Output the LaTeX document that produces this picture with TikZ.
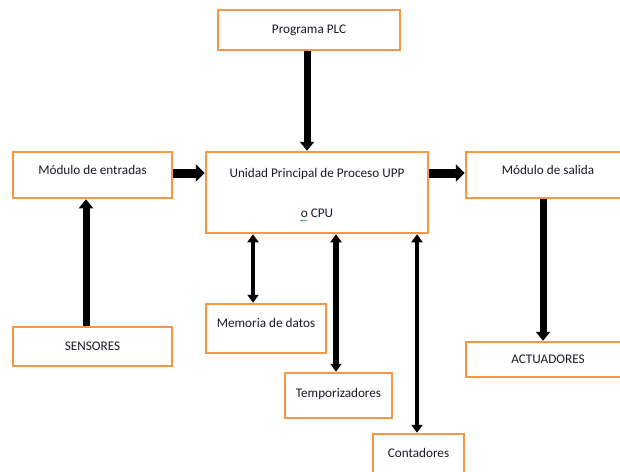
\documentclass[tikz,border=0pt]{standalone}
\usepackage{fontspec}
\setmainfont{Carlito}
\usetikzlibrary{arrows.meta}
\definecolor{boxorange}{HTML}{F79646}
\definecolor{spellgreen}{HTML}{3FA34D}
\definecolor{inktext}{HTML}{1A1A26}
\begin{document}
\begin{tikzpicture}[x=1pt,y=-1pt,
  box/.style={draw=boxorange,line width=2.5pt,fill=white,inner sep=0pt,
    font=\fontsize{13.2}{16}\selectfont,text=inktext},
  hbig/.style={line width=9pt,-{Triangle[width=17pt,length=9pt]}},
  vbig/.style={line width=7pt,-{Triangle[width=14pt,length=9pt]}},
  dbl/.style={line width=4.5pt,{Triangle[width=11pt,length=8pt]}-{Triangle[width=11pt,length=8pt]}}]
\useasboundingbox[fill=white] (0,0) rectangle (620,471);

% blocks
\node[box,minimum width=182pt,minimum height=40pt] (prog) at (309,30) {Programa PLC};
\node[box,minimum width=159pt,minimum height=46pt] (ent) at (92.5,175) {\raisebox{10pt}{Módulo de entradas}};
\node[box,minimum width=222pt,minimum height=81pt,align=center,
  font=\fontsize{13.2}{40}\selectfont] (upp) at (317,192.5) {Unidad Principal de Proceso UPP\\o CPU};
\node[box,minimum width=164pt,minimum height=46pt] (sal) at (548,175) {\raisebox{10pt}{Módulo de salida}};
\node[box,minimum width=159pt,minimum height=39pt] (sens) at (92.5,346.5) {SENSORES};
\node[box,minimum width=120pt,minimum height=49pt] (mem) at (266,328.5) {\raisebox{12pt}{Memoria de datos}};
\node[box,minimum width=107pt,minimum height=45pt] (temp) at (338.5,395.5) {\raisebox{5pt}{Temporizadores}};
\node[box,minimum width=91pt,minimum height=52pt] (cont) at (418.5,460) {\raisebox{15pt}{Contadores}};
\node[box,minimum width=164pt,minimum height=35pt] (act) at (548,359.5) {\raisebox{1pt}{ACTUADORES}};

% spell-check underline below the "o"
\draw[spellgreen,line width=0.6pt] ([shift={(-17,27.5)}]upp.center)
  -- ++(1.2,1.2) -- ++(1.2,-1.2) -- ++(1.2,1.2) -- ++(1.2,-1.2) -- ++(1.2,1.2) -- ++(1.2,-1.2);

% connectors
\draw[vbig] ([xshift=-2pt]prog.south) -- ([xshift=-2pt]prog.south |- upp.north);
\draw[hbig] ([yshift=2pt]ent.east) -- ([yshift=2pt]ent.east -| upp.west);
\draw[hbig] ([yshift=2pt]sal.west -| upp.east) -- ([yshift=2pt]sal.west);
\draw[vbig] ([xshift=-6.5pt]sens.north) -- ([xshift=-6.5pt]sens.north |- ent.south);
\draw[vbig] ([xshift=-5pt]sal.south) -- ([xshift=-5pt]sal.south |- act.north);
\draw[dbl] ([xshift=-13pt]mem.north |- upp.south) -- ([xshift=-13pt]mem.north);
\draw[dbl,line width=5.5pt] ([xshift=-2.5pt]temp.north |- upp.south) -- ([xshift=-2.5pt]temp.north);
\draw[dbl] ([xshift=-1.5pt]cont.north |- upp.south) -- ([xshift=-1.5pt]cont.north);
\end{tikzpicture}
\end{document}
